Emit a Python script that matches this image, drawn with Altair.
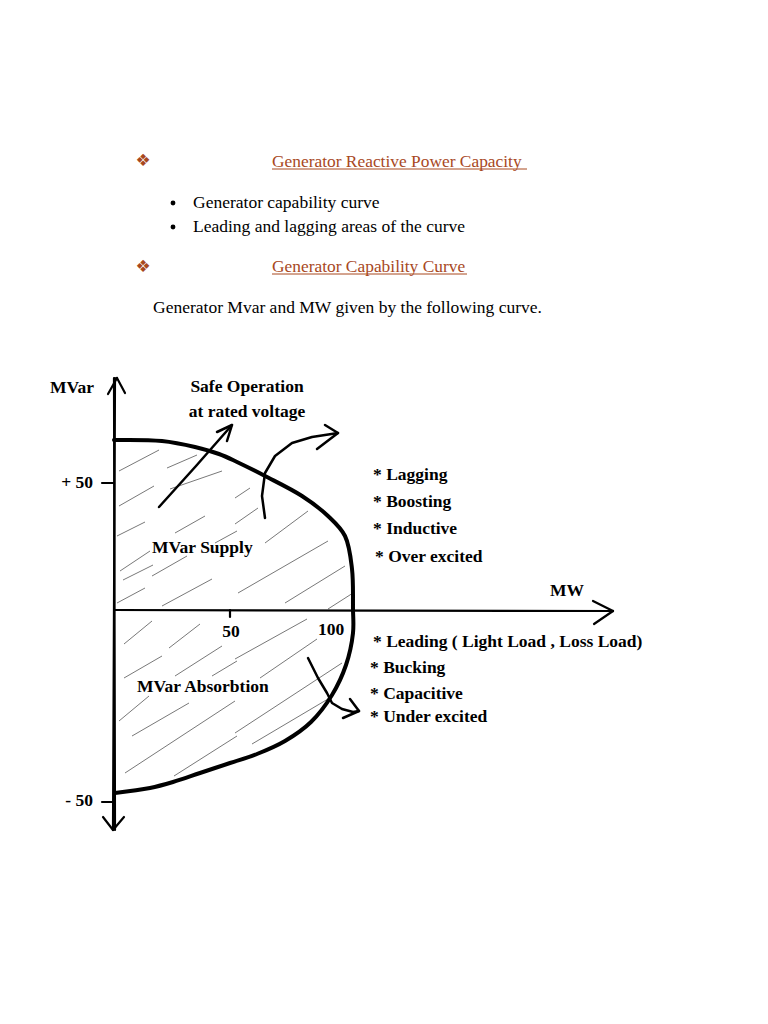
import altair as alt
import pandas as pd

# ---------------- page text (positions, page pixels) ----------------
heading_text = ["Generator Reactive Power Capacity", "Generator Capability Curve"]
heading_x = [272, 272]
heading_y = [162, 267]
heading_end = [527, 467]
diamond_x = [143, 143]
diamond_y = [161, 267]

bullet_text = ["Generator capability curve", "Leading and lagging areas of the curve"]
bullet_x = [193, 193]
bullet_y = [203, 227]
bullet_dot_x = [173, 173]

intro_text = ["Generator Mvar and MW given by the following curve."]
intro_x = [153]
intro_y = [308]

# ---------------- diagram ----------------
# axis lines with arrow heads: (x1, y1, x2, y2)
axis_x1 = [115, 114, 114, 117, 117, 113, 113, 613, 613, 102, 102, 230]
axis_y1 = [378, 610, 378, 378, 378, 830, 830, 611, 611, 483, 802, 610]
axis_x2 = [113, 613, 115, 108, 125, 103, 124, 593, 594, 114, 114, 230]
axis_y2 = [830, 611, 830, 394, 393, 817, 817, 601, 624, 483, 802, 617]

# capability curve (page pixels), traced from top to bottom
curve_x = [114, 162, 195, 219, 237, 265, 302, 328, 345, 352, 353, 353, 346, 332, 311, 285, 257, 230, 200, 173, 150, 115]
curve_y = [440, 441, 447, 454, 462, 476, 496, 516, 536, 569, 609, 633, 665, 695, 722, 741, 754, 763, 773, 782, 788, 793]

# hatch segments (x1, y1, x2, y2)
hatch_x1 = [119, 167, 119, 170, 117, 175, 120, 152, 117, 162, 215, 235, 235, 265, 238, 285, 328,
            124, 124, 169, 175, 212, 119, 132, 125, 174, 235, 260, 235, 252, 123]
hatch_y1 = [471, 468, 506, 489, 536, 533, 571, 576, 603, 606, 543, 498, 524, 543, 593, 603, 609,
            644, 678, 648, 676, 676, 721, 736, 773, 776, 659, 678, 733, 744, 580]
hatch_x2 = [159, 197, 154, 222, 145, 205, 150, 187, 145, 212, 237, 250, 258, 308, 328, 345, 353,
            152, 162, 200, 222, 237, 149, 189, 235, 237, 307, 317, 342, 328, 153]
hatch_y2 = [450, 455, 486, 471, 522, 516, 551, 556, 588, 579, 531, 488, 508, 511, 541, 566, 593,
            621, 656, 624, 646, 661, 696, 703, 701, 736, 619, 639, 663, 699, 565]

# hand drawn arrows: arrow id, points in drawing order
arrow_id = [1, 1, 1, 1, 1, 1, 1, 1,
            2, 2, 2,
            3, 3, 3, 3, 3, 3, 3,
            4, 4, 4, 5, 5, 5, 6, 6, 6]
arrow_x = [265, 262, 265, 275, 292, 312, 338, 338,
           159, 196, 232,
           308, 318, 327, 332, 342, 353, 359,
           325, 338, 317, 217, 232, 227, 350, 359, 343]
arrow_y = [518, 496, 473, 456, 443, 437, 433, 433,
           507, 466, 425,
           658, 678, 693, 703, 709, 712, 711,
           425, 433, 449, 432, 425, 441, 699, 711, 718]
arrow_order = [0, 1, 2, 3, 4, 5, 6, 7,
               0, 1, 2,
               0, 1, 2, 3, 4, 5, 6,
               0, 1, 2, 0, 1, 2, 0, 1, 2]

# diagram labels
label_text = ["MVar", "Safe Operation", "at rated voltage", "+ 50", "- 50", "50", "100", "MW",
              "MVar Supply", "MVar Absorbtion"]
label_x = [50, 247, 247, 93, 93, 231, 331, 550, 152, 137]
label_y = [388, 387, 412, 483, 801, 632, 630, 591, 548, 687]
label_align = ["left", "center", "center", "right", "right", "center", "center", "left", "left", "left"]

note_text = ["* Lagging", "* Boosting", "* Inductive", "* Over excited",
             "* Leading ( Light Load , Loss Load)", "* Bucking", "* Capacitive", "* Under excited"]
note_x = [373, 373, 373, 375, 373, 370, 370, 370]
note_y = [475, 502, 529, 557, 642, 668, 694, 717]

# ---------------- build ----------------
BROWN = "#A8481E"
SERIF = "Liberation Serif"

xs = alt.Scale(domain=[8, 760], nice=False, zero=False)
ys = alt.Scale(domain=[8, 1016], nice=False, zero=False, reverse=True)


def X(f):
    return alt.X(f, type="quantitative", scale=xs, axis=None)


def Y(f):
    return alt.Y(f, type="quantitative", scale=ys, axis=None)


headings = pd.DataFrame({"x": heading_x, "y": heading_y, "t": heading_text, "x2": heading_end,
                         "yu": [y + 7 for y in heading_y]})
diamonds = pd.DataFrame({"x": diamond_x, "y": diamond_y, "t": ["\u2756"] * len(diamond_x)})
bullets = pd.DataFrame({"x": bullet_x, "y": bullet_y, "t": bullet_text, "dx": bullet_dot_x})
intro = pd.DataFrame({"x": intro_x, "y": intro_y, "t": intro_text})

axes_df = pd.DataFrame({"x1": axis_x1, "y1": axis_y1, "x2": axis_x2, "y2": axis_y2})
curve_df = pd.DataFrame({"x": curve_x, "y": curve_y, "o": list(range(len(curve_x)))})
hatch_df = pd.DataFrame({"x1": hatch_x1, "y1": hatch_y1, "x2": hatch_x2, "y2": hatch_y2})
arrow_df = pd.DataFrame({"id": arrow_id, "x": arrow_x, "y": arrow_y, "o": arrow_order})
labels_df = pd.DataFrame({"x": label_x, "y": label_y, "t": label_text, "a": label_align})
notes_df = pd.DataFrame({"x": note_x, "y": note_y, "t": note_text})

layers = []

layers.append(alt.Chart(headings).mark_text(font=SERIF, fontSize=17.4, color=BROWN, align="left",
                                            baseline="middle").encode(x=X("x"), y=Y("y"), text="t:N"))
layers.append(alt.Chart(headings).mark_rule(color=BROWN, strokeWidth=1).encode(
    x=X("x"), x2="x2:Q", y=Y("yu")))
layers.append(alt.Chart(diamonds).mark_text(font="DejaVu Sans", fontSize=17, color=BROWN,
                                            align="center", baseline="middle").encode(
    x=X("x"), y=Y("y"), text="t:N"))
layers.append(alt.Chart(bullets).mark_text(font=SERIF, fontSize=17.5, color="black", align="left",
                                           baseline="middle").encode(x=X("x"), y=Y("y"), text="t:N"))
layers.append(alt.Chart(bullets).mark_circle(color="black", size=24, opacity=1).encode(
    x=X("dx"), y=Y("y")))
layers.append(alt.Chart(intro).mark_text(font=SERIF, fontSize=17.5, color="black", align="left",
                                         baseline="middle").encode(x=X("x"), y=Y("y"), text="t:N"))

layers.append(alt.Chart(hatch_df).mark_rule(color="#555555", strokeWidth=0.8).encode(
    x=X("x1"), y=Y("y1"), x2="x2:Q", y2="y2:Q"))
layers.append(alt.Chart(axes_df).mark_rule(color="black", strokeWidth=2.2, strokeCap="round").encode(
    x=X("x1"), y=Y("y1"), x2="x2:Q", y2="y2:Q"))
layers.append(alt.Chart(curve_df).mark_line(color="black", strokeWidth=4, interpolate="catmull-rom",
                                            strokeCap="round").encode(
    x=X("x"), y=Y("y"), order="o:Q"))
layers.append(alt.Chart(arrow_df).mark_line(color="black", strokeWidth=2.5, interpolate="linear",
                                            strokeCap="round", strokeJoin="round").encode(
    x=X("x"), y=Y("y"), order="o:Q", detail="id:N"))

for al in ["left", "center", "right"]:
    sub = labels_df[labels_df["a"] == al]
    layers.append(alt.Chart(sub).mark_text(font=SERIF, fontWeight="bold", fontSize=17.5, color="black",
                                           align=al, baseline="middle").encode(
        x=X("x"), y=Y("y"), text="t:N"))
layers.append(alt.Chart(notes_df).mark_text(font=SERIF, fontWeight="bold", fontSize=17.5, color="black",
                                            align="left", baseline="middle").encode(
    x=X("x"), y=Y("y"), text="t:N"))

chart = alt.layer(*layers).properties(
    width=752, height=1008, padding=0, background="white"
).configure_view(strokeWidth=0)

chart.save("out.html", embed_options={"renderer": "svg", "actions": False})
